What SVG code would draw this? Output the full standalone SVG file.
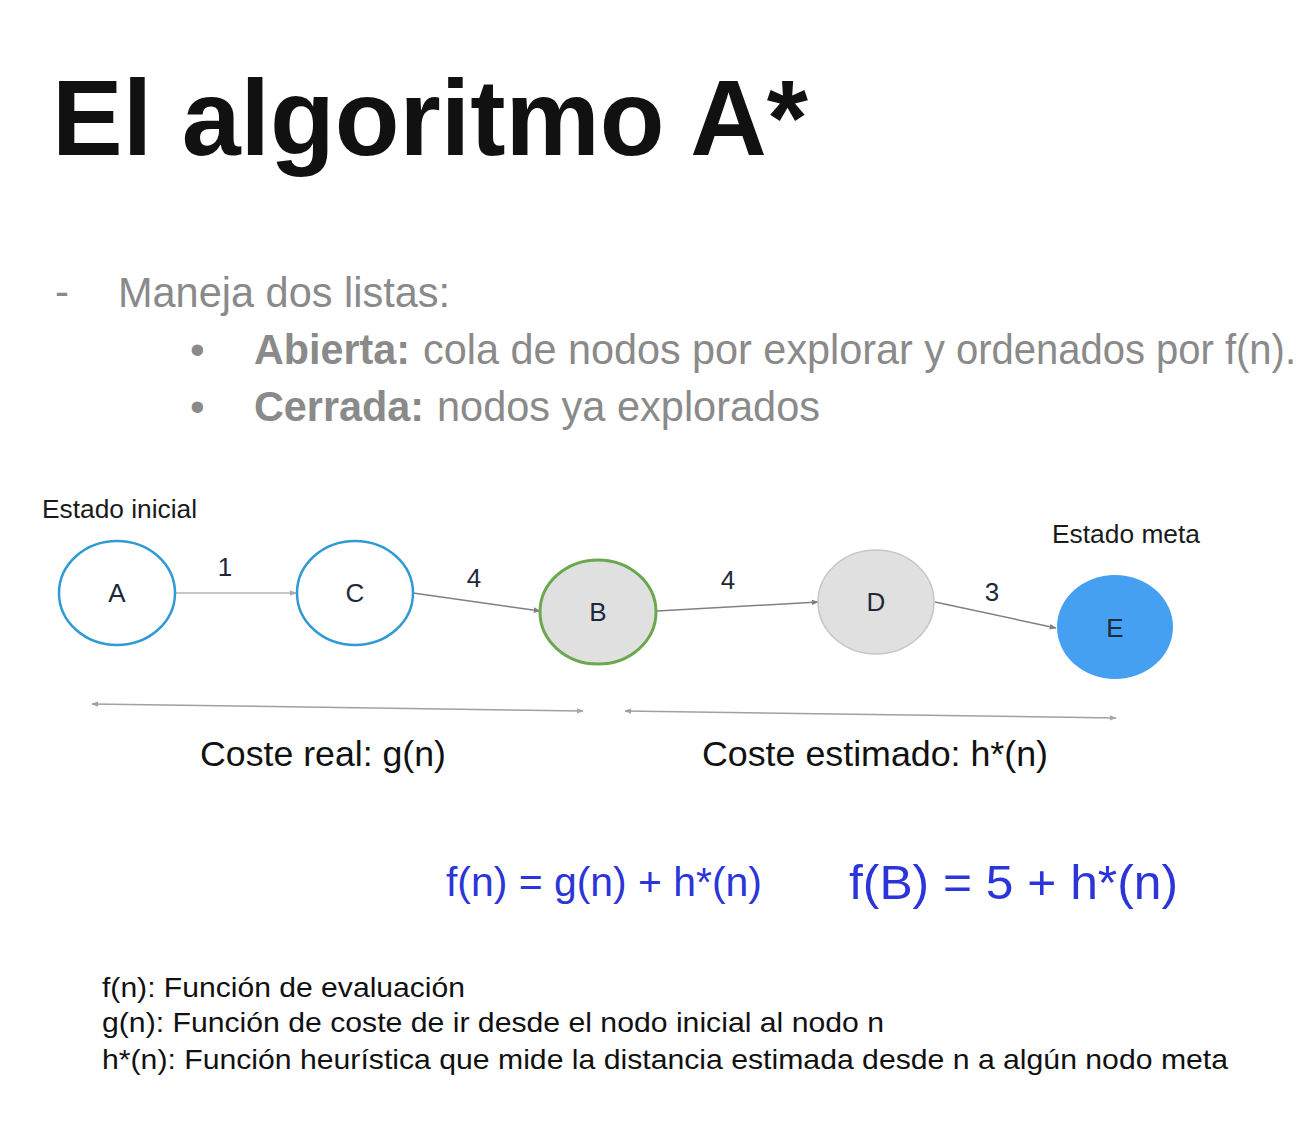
<svg xmlns="http://www.w3.org/2000/svg" width="1314" height="1132" viewBox="0 0 1314 1132">
  <style>
    .title { font-family: "Liberation Sans", Arial, sans-serif; font-weight: bold; font-size: 108px; fill: #111; }
    .body { font-family: "Liberation Sans", Arial, sans-serif; font-size: 42px; fill: #8a8a8a; }
    .bold { font-weight: bold; }
    .small { font-family: "Liberation Sans", Arial, sans-serif; font-size: 26px; fill: #1a1a1a; }
    .lbl { font-family: "Liberation Sans", Arial, sans-serif; font-size: 26px; fill: #1e2a3a; text-anchor: middle; }
    .cost { font-family: "Liberation Sans", Arial, sans-serif; font-size: 35px; fill: #111; }
    .formula { font-family: "Liberation Sans", Arial, sans-serif; fill: #2b35d8; }
    .note { font-family: "Liberation Sans", Arial, sans-serif; font-size: 28px; fill: #111; }
    .ring { fill: #fff; stroke: #2f9ad4; stroke-width: 2.5; }
    .edge { fill: none; stroke: #808080; stroke-width: 1.5; }
    .span { fill: none; stroke: #a0a0a0; stroke-width: 1.5; }
  </style>
  <defs>
    <marker id="arr" viewBox="0 0 10 10" refX="9" refY="5" markerWidth="7" markerHeight="7" orient="auto" markerUnits="userSpaceOnUse">
      <path d="M0,1 L10,5 L0,9 z" fill="#808080"/>
    </marker>
    <marker id="arrLight" viewBox="0 0 10 10" refX="9" refY="5" markerWidth="7" markerHeight="7" orient="auto" markerUnits="userSpaceOnUse">
      <path d="M0,1 L10,5 L0,9 z" fill="#a8a8a8"/>
    </marker>
    <marker id="arrStart" viewBox="0 0 10 10" refX="1" refY="5" markerWidth="7" markerHeight="7" orient="auto" markerUnits="userSpaceOnUse">
      <path d="M10,1 L0,5 L10,9 z" fill="#a0a0a0"/>
    </marker>
  </defs>

  <rect width="1314" height="1132" fill="#fff"/>

  <!-- heading and list -->
  <text class="title" x="52" y="155" textLength="756" lengthAdjust="spacingAndGlyphs">El algoritmo A*</text>
  <text class="body" x="55" y="306">-</text>
  <text class="body" x="118" y="307" textLength="332" lengthAdjust="spacingAndGlyphs">Maneja dos listas:</text>
  <text class="body" x="190" y="364">•</text>
  <text class="body bold" x="254" y="364" textLength="156" lengthAdjust="spacingAndGlyphs">Abierta:</text>
  <text class="body" x="423" y="364" textLength="522" lengthAdjust="spacingAndGlyphs">cola de nodos por explorar y</text>
  <text class="body" x="956" y="364" font-size="40" textLength="340" lengthAdjust="spacingAndGlyphs">ordenados por f(n).</text>
  <text class="body" x="190" y="421">•</text>
  <text class="body bold" x="254" y="421" textLength="170" lengthAdjust="spacingAndGlyphs">Cerrada:</text>
  <text class="body" x="437" y="421" textLength="383" lengthAdjust="spacingAndGlyphs">nodos ya explorados</text>

  <!-- state captions -->
  <text class="small" x="42" y="518" textLength="155" lengthAdjust="spacingAndGlyphs">Estado inicial</text>
  <text class="small" x="1052" y="543" textLength="148" lengthAdjust="spacingAndGlyphs">Estado meta</text>

  <!-- connectors -->
  <g id="connectors">
    <line x1="176" y1="593" x2="296" y2="593" stroke="#b4b4b4" stroke-width="1.5" marker-end="url(#arrLight)"/>
    <line class="edge" x1="413" y1="593" x2="540" y2="611" marker-end="url(#arr)"/>
    <line class="edge" x1="657" y1="611" x2="818" y2="602" marker-end="url(#arr)"/>
    <line class="edge" x1="935" y1="602" x2="1056" y2="628" marker-end="url(#arr)"/>
    <text class="lbl" x="225" y="576">1</text>
    <text class="lbl" x="474" y="587">4</text>
    <text class="lbl" x="728" y="589">4</text>
    <text class="lbl" x="992" y="601">3</text>
    <!-- cost spans -->
    <line class="span" x1="92" y1="704" x2="583" y2="711" marker-start="url(#arrStart)" marker-end="url(#arrLight)"/>
    <line class="span" x1="625" y1="711" x2="1116" y2="718" marker-start="url(#arrStart)" marker-end="url(#arrLight)"/>
  </g>

  <!-- nodes -->
  <g id="node-A">
    <ellipse class="ring" cx="117" cy="593" rx="58" ry="52"/>
    <text class="lbl" x="117" y="602">A</text>
  </g>
  <g id="node-C">
    <ellipse class="ring" cx="355" cy="593" rx="58" ry="52"/>
    <text class="lbl" x="355" y="602">C</text>
  </g>
  <g id="node-B">
    <ellipse cx="598" cy="612" rx="58" ry="52" fill="#e0e0e0" stroke="#6aa84f" stroke-width="3"/>
    <text class="lbl" x="598" y="621">B</text>
  </g>
  <g id="node-D">
    <ellipse cx="876" cy="602" rx="58" ry="52" fill="#e0e0e0" stroke="#c6c6c6" stroke-width="1.5"/>
    <text class="lbl" x="876" y="611">D</text>
  </g>
  <g id="node-E">
    <ellipse cx="1115" cy="627" rx="58" ry="52" fill="#46a0f2"/>
    <text class="lbl" x="1115" y="637">E</text>
  </g>

  <!-- cost captions -->
  <text class="cost" x="200" y="766" textLength="246" lengthAdjust="spacingAndGlyphs">Coste real: g(n)</text>
  <text class="cost" x="702" y="766" textLength="346" lengthAdjust="spacingAndGlyphs">Coste estimado: h*(n)</text>

  <!-- formulas -->
  <text class="formula" x="446" y="896" font-size="40" textLength="316" lengthAdjust="spacingAndGlyphs">f(n) = g(n) + h*(n)</text>
  <text class="formula" x="849" y="899" font-size="48" textLength="329" lengthAdjust="spacingAndGlyphs">f(B) = 5 + h*(n)</text>

  <!-- definitions -->
  <text class="note" x="102" y="997" textLength="363" lengthAdjust="spacingAndGlyphs">f(n): Función de evaluación</text>
  <text class="note" x="102" y="1032" textLength="782" lengthAdjust="spacingAndGlyphs">g(n): Función de coste de ir desde el nodo inicial al nodo n</text>
  <text class="note" x="102" y="1069" textLength="1126" lengthAdjust="spacingAndGlyphs">h*(n): Función heurística que mide la distancia estimada desde n a algún nodo meta</text>
</svg>
